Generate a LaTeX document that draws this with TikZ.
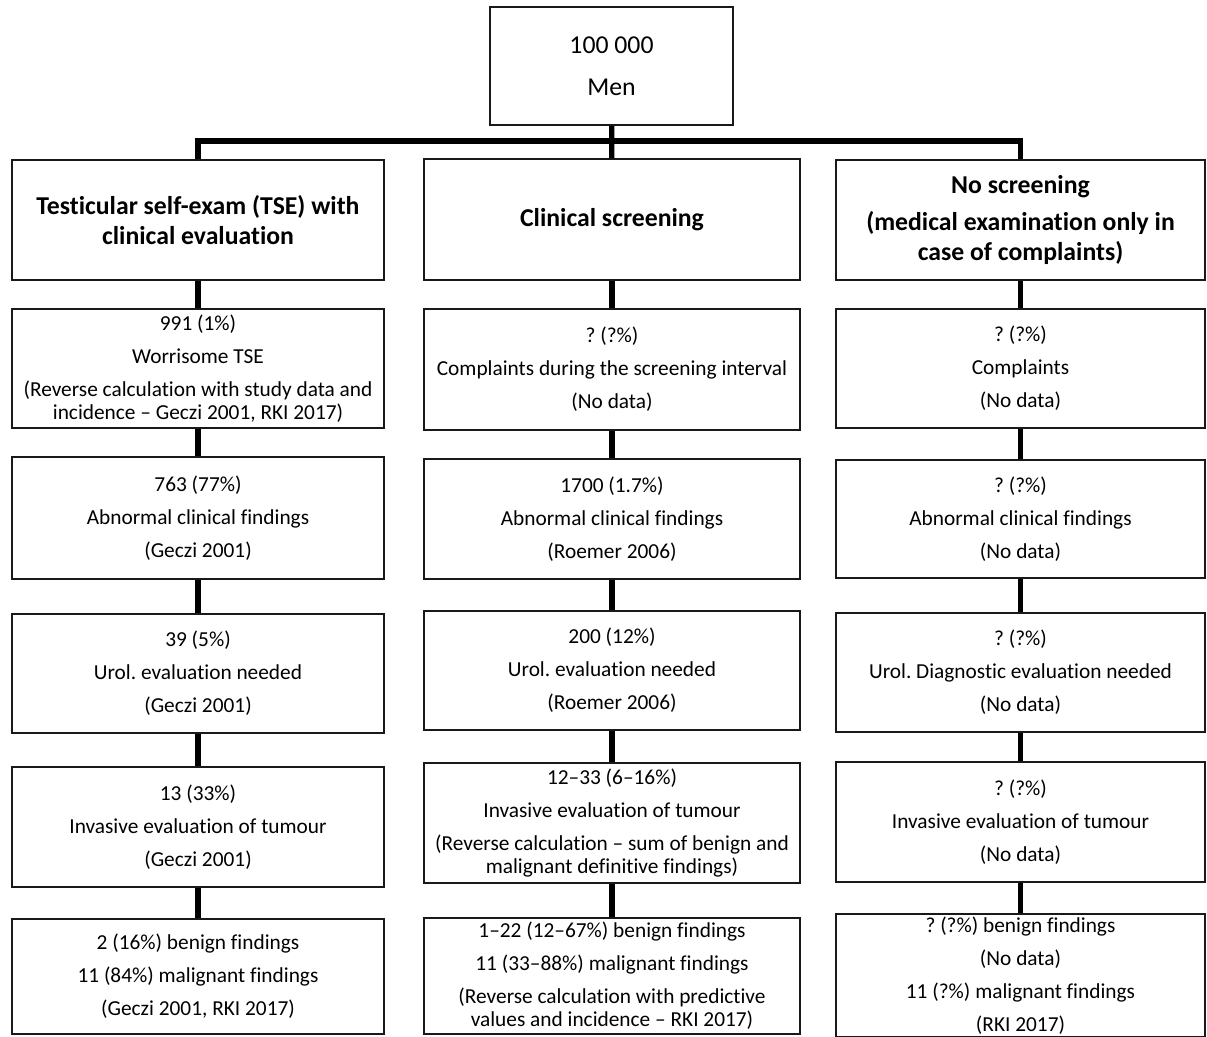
\documentclass[tikz,border=0pt]{standalone}
\usepackage{fontspec}
\setmainfont[Ligatures={TeX,NoCommon}]{Carlito}
\usepackage{tikz}
\usetikzlibrary{positioning,calc}
\tikzset{
  box/.style    = {draw=black!90, line width=1.3pt, align=center, inner sep=2pt,
                   minimum height=89.5pt, font=\fontsize{16}{17.5}\selectfont},
  tsebox/.style = {box, minimum width=279pt},
  clibox/.style = {box, minimum width=282pt},
  nonbox/.style = {box, minimum width=276.75pt},
  hdr/.style    = {font=\fontsize{19.3}{22.5}\selectfont\bfseries, minimum height=90.5pt},
  link/.style   = {line width=4pt},
}
\newcommand{\gap}{\\[7.2pt]}
\frenchspacing

\begin{document}
\begin{tikzpicture}[x=0.75pt, y=-0.75pt]
\useasboundingbox (0,0) rectangle (1207,1036);

% root
\node[box, minimum width=182pt, minimum height=88.5pt,
      font=\fontsize{19.3}{22.5}\selectfont] (root) at (611.5,66) {100 000\\[9pt]Men};
\coordinate (bus) at (612,141);

% headers
\node[tsebox, hdr] (tse0) at (198,220)
     {Testicular self-exam (TSE) with\\clinical evaluation};
\node[clibox, hdr] (cli0) at (612,219.5) {Clinical screening};
\node[nonbox, hdr] (non0) at (1020.5,220)
     {No screening\\[5pt]
      (medical examination only in\\case of complaints)};

% testicular self-exam
\node[tsebox] (tse1) at (198,368.5)
     {991 (1\%)\gap Worrisome TSE\gap
      (Reverse calculation with study data and\\
      incidence -- Geczi 2001, RKI 2017)};
\node[tsebox, minimum height=91.5pt] (tse2) at (198,518)
     {763 (77\%)\gap Abnormal clinical findings\gap (Geczi 2001)};
\node[tsebox] (tse3) at (198,673.5)
     {39 (5\%)\gap Urol. evaluation needed\gap (Geczi 2001)};
\node[tsebox] (tse4) at (198,827)
     {13 (33\%)\gap Invasive evaluation of tumour\gap (Geczi 2001)};
\node[tsebox, minimum height=86.25pt] (tse5) at (198,976.5)
     {2 (16\%) benign findings\gap 11 (84\%) malignant findings\gap
      (Geczi 2001, RKI 2017)};

% clinical screening
\node[clibox, minimum height=90.75pt] (cli1) at (612,369.5)
     {? (?\%)\gap Complaints during the screening interval\gap (No data)};
\node[clibox, minimum height=90pt] (cli2) at (612,519)
     {1700 (1.7\%)\gap Abnormal clinical findings\gap (Roemer 2006)};
\node[clibox] (cli3) at (612,670.5)
     {200 (12\%)\gap Urol. evaluation needed\gap (Roemer 2006)};
\node[clibox, minimum height=90pt] (cli4) at (612,823)
     {12--33 (6--16\%)\gap Invasive evaluation of tumour\gap
      (Reverse calculation -- sum of benign and\\
      malignant definitive findings)};
\node[clibox, minimum height=87pt] (cli5) at (612,976)
     {1--22 (12--67\%) benign findings\gap 11 (33--88\%) malignant findings\gap
      (Reverse calculation with predictive\\
      values and incidence -- RKI 2017)};

% no screening
\node[nonbox] (non1) at (1020.5,368.5)
     {? (?\%)\gap Complaints\gap (No data)};
\node[nonbox, minimum height=88.5pt] (non2) at (1020.5,519)
     {? (?\%)\gap Abnormal clinical findings\gap (No data)};
\node[nonbox] (non3) at (1020.5,672.5)
     {? (?\%)\gap Urol. Diagnostic evaluation needed\gap (No data)};
\node[nonbox] (non4) at (1020.5,822)
     {? (?\%)\gap Invasive evaluation of tumour\gap (No data)};
\node[nonbox, minimum height=87.75pt] (non5) at (1020.5,975.5)
     {? (?\%) benign findings\gap (No data)\gap
      11 (?\%) malignant findings\gap (RKI 2017)};

% connectors
\draw[link] (root) -- (cli0);
\draw[link] (tse0.north) |- (bus) -| (non0.north);
\foreach \col in {tse,cli,non}{
  \foreach \a/\b in {0/1,1/2,2/3,3/4,4/5}{\draw[link] (\col\a) -- (\col\b);}
}
\end{tikzpicture}
\end{document}
